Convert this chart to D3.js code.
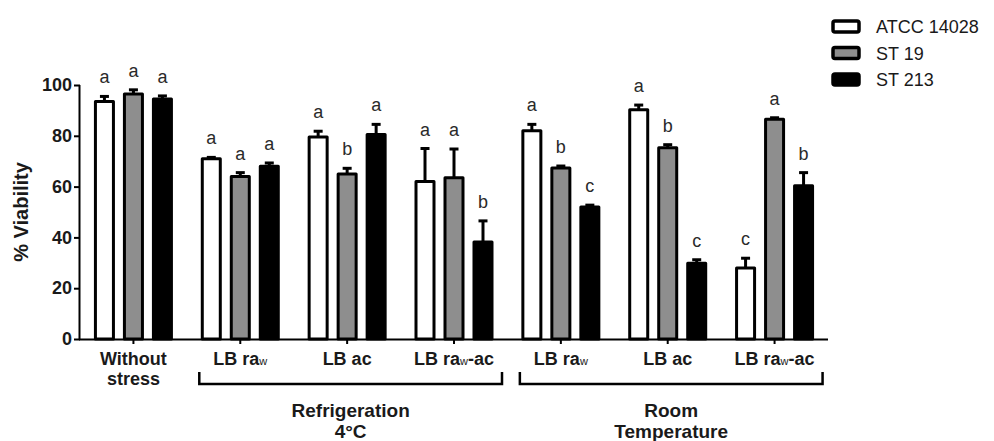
<!DOCTYPE html>
<html lang="en">
<head>
<meta charset="utf-8">
<title>% Viability</title>
<script src="https://d3js.org/d3.v7.min.js"></script>
<style>
body { margin: 0; background: #fff; font-family: "Liberation Sans", Arial, sans-serif; }
text { fill: #1a1a1a; }
.tick text { font-weight: bold; font-size: 18px; }
</style>
</head>
<body>
<div id="chart"></div>
<script>
// data
const groups = ["g0", "g1", "g2", "g3", "g4", "g5", "g6"];
const groupLabels = [["Without", "stress"], ["LB ra", "w"], ["LB ac"], ["LB ra", "w", "-ac"], ["LB ra", "w"], ["LB ac"], ["LB ra", "w", "-ac"]];
const series = ["ATCC 14028", "ST 19", "ST 213"];
const fills = ["#ffffff", "#8e8e8e", "#000000"];

const atcc = [93.5, 71, 79.5, 62, 82, 90.3, 28];
const atccErr = [2, 0.5, 2.3, 13, 2.5, 1.8, 3.8];
const st19 = [96.5, 64, 65, 63.5, 67.3, 75.3, 86.5];
const st19Err = [1.6, 1.5, 2.2, 11.3, 0.8, 1.2, 0.6];
const st213 = [94.5, 68, 80.5, 38.2, 52, 29.8, 60.3];
const st213Err = [1.2, 1.3, 4, 8.3, 0.7, 1.4, 5.2];

const atccLetters = ["a", "a", "a", "a", "a", "a", "c"];
const st19Letters = ["a", "a", "b", "a", "b", "b", "a"];
const st213Letters = ["a", "a", "a", "b", "c", "c", "b"];

const yTicks = [0, 20, 40, 60, 80, 100];
const brackets = [
  { from: "g1", to: "g3", lines: ["Refrigeration", "4°C"] },
  { from: "g4", to: "g6", lines: ["Room", "Temperature"] }
];

const width = 994, height = 441;
const svg = d3.select("#chart").append("svg")
  .attr("width", width)
  .attr("height", height);

const x0 = d3.scaleBand().domain(groups).range([80, 828]);
const x1 = d3.scaleBand().domain(series).range([-38, 38]).paddingInner(0.379);
const y = d3.scaleLinear().domain([0, 100]).range([339, 85]);

const vals = [atcc, st19, st213];
const errs = [atccErr, st19Err, st213Err];
const letters = [atccLetters, st19Letters, st213Letters];

const rows = [];
series.forEach((s, si) => {
  groups.forEach((g, gi) => {
    rows.push({ g: g, s: s, si: si, v: vals[si][gi], e: errs[si][gi], l: letters[si][gi] });
  });
});
const cx = d => x0(d.g) + x0.bandwidth() / 2 + x1(d.s) + x1.bandwidth() / 2;

// error bars (upper half only)
const eb = svg.append("g").attr("stroke", "#000").attr("stroke-width", 3);
eb.selectAll("line.v").data(rows).join("line")
  .attr("x1", cx).attr("x2", cx)
  .attr("y1", d => y(d.v)).attr("y2", d => y(d.v + d.e));
eb.selectAll("line.c").data(rows).join("line")
  .attr("x1", d => cx(d) - 4.5).attr("x2", d => cx(d) + 4.5)
  .attr("y1", d => y(d.v + d.e)).attr("y2", d => y(d.v + d.e));

// bars
svg.append("g").selectAll("rect").data(rows).join("rect")
  .attr("x", d => cx(d) - x1.bandwidth() / 2)
  .attr("width", x1.bandwidth())
  .attr("y", d => y(d.v))
  .attr("height", d => y(0) - y(d.v))
  .attr("fill", d => fills[d.si])
  .attr("stroke", "#000")
  .attr("stroke-width", 3)
  .attr("stroke-linejoin", "round");

// significance letters
svg.append("g").selectAll("text").data(rows).join("text")
  .attr("x", cx)
  .attr("y", d => y(d.v + d.e) - 13)
  .attr("text-anchor", "middle")
  .attr("font-size", 18)
  .style("fill", "#2a2a2a")
  .text(d => d.l);

// y axis
const yAxis = svg.append("g")
  .attr("transform", "translate(80,0)")
  .call(d3.axisLeft(y).tickValues(yTicks).tickSize(6).tickPadding(2));
yAxis.select(".domain").attr("stroke-width", 2).attr("d", `M-0.5,${y(0)}V${y(100)}`);
yAxis.selectAll(".tick line").attr("stroke-width", 2);

svg.append("text")
  .attr("transform", `translate(28,${(y(0) + y(100)) / 2}) rotate(-90)`)
  .attr("text-anchor", "middle")
  .attr("font-weight", "bold")
  .attr("font-size", 20)
  .text("% Viability");

// x axis
const xAxis = svg.append("g")
  .attr("transform", `translate(0,${y(0)})`)
  .call(d3.axisBottom(x0).tickSize(5).tickFormat(""));
xAxis.select(".domain").attr("stroke-width", 2).attr("d", `M79,0.5H828`);
xAxis.selectAll(".tick line").attr("stroke-width", 2);

const lab = svg.append("g").selectAll("text").data(groups).join("text")
  .attr("x", g => x0(g) + x0.bandwidth() / 2)
  .attr("y", 365)
  .attr("text-anchor", "middle")
  .attr("font-weight", "bold")
  .attr("font-size", 18);
lab.each(function (g, i) {
  const parts = groupLabels[i];
  const t = d3.select(this);
  if (i === 0) {
    t.append("tspan").attr("x", x0(g) + x0.bandwidth() / 2).text(parts[0]);
    t.append("tspan").attr("x", x0(g) + x0.bandwidth() / 2).attr("dy", 20).text(parts[1]);
    return;
  }
  t.append("tspan").text(parts[0]);
  if (parts[1]) t.append("tspan").attr("font-size", 11).attr("font-weight", "normal").text(parts[1]);
  if (parts[2]) t.append("tspan").text(parts[2]);
});

// brackets
const br = svg.append("g");
brackets.forEach(b => {
  const xa = x0(b.from) + x0.bandwidth() / 2 - 41;
  const xb = x0(b.to) + x0.bandwidth() / 2 + 48;
  br.append("path")
    .attr("d", `M${xa},372V384H${xb}V372`)
    .attr("fill", "none")
    .attr("stroke", "#000")
    .attr("stroke-width", 2.5);
  const t = br.append("text")
    .attr("text-anchor", "middle")
    .attr("font-weight", "bold")
    .attr("font-size", 19);
  b.lines.forEach((ln, k) => {
    t.append("tspan").attr("x", (xa + xb) / 2).attr("y", 417 + k * 21).text(ln);
  });
});

// legend
const leg = svg.append("g").selectAll("g").data(series).join("g")
  .attr("transform", (d, i) => `translate(833,${21 + i * 26.5})`);
leg.append("rect")
  .attr("width", 26).attr("height", 11)
  .attr("rx", 2)
  .attr("fill", (d, i) => fills[i])
  .attr("stroke", "#000")
  .attr("stroke-width", 3.5);
leg.append("text")
  .attr("x", 43).attr("y", 12)
  .attr("font-size", 18)
  .text(d => d);
</script>
</body>
</html>
